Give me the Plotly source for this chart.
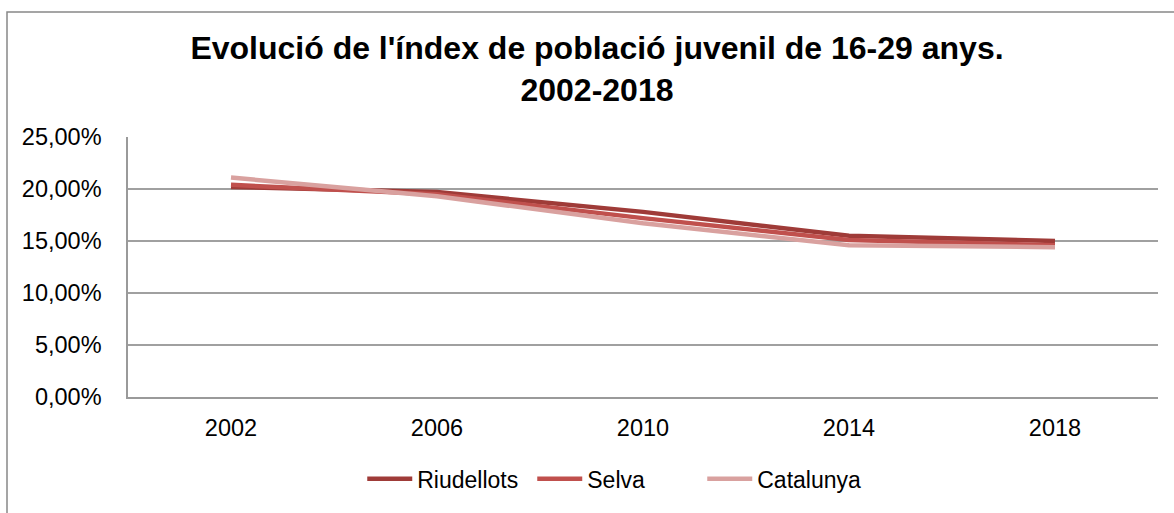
import plotly.graph_objects as go

# Data
years = ["2002", "2006", "2010", "2014", "2018"]
riudellots = [0.202, 0.197, 0.178, 0.155, 0.150]
selva = [0.204, 0.195, 0.172, 0.151, 0.146]
catalunya = [0.211, 0.193, 0.167, 0.146, 0.144]

series = [
    ("Riudellots", riudellots, "#9F3B38"),
    ("Selva", selva, "#C0504D"),
    ("Catalunya", catalunya, "#D9A19F"),
]

fig = go.Figure()
for name, vals, col in series:
    fig.add_trace(go.Scatter(
        x=years, y=vals, name=name, mode="lines",
        line=dict(color=col, width=4.5),
    ))

font_family = "Liberation Sans, Arial, sans-serif"

fig.update_layout(
    width=1174, height=513,
    margin=dict(l=128, r=16, t=137, b=106),
    paper_bgcolor="white",
    plot_bgcolor="white",
    separators=",.",
    font=dict(family=font_family, size=23.5, color="black"),
    title=dict(
        text="<b>Evolució de l'índex de població juvenil de 16-29 anys.<br>2002-2018</b>",
        x=0.5085, xanchor="center",
        y=1 - 59 / 513, yanchor="middle",
        font=dict(size=32, family=font_family, color="black"),
    ),
    showlegend=True,
    legend=dict(
        orientation="h",
        x=0.475, xanchor="center",
        y=-0.315, yanchor="middle",
        font=dict(size=23),
        entrywidth=110,
        itemwidth=45,
    ),
    xaxis=dict(
        type="category",
        range=[-0.5, 4.5],
        showgrid=False,
        showline=True, linecolor="#9A9A9A", linewidth=1.5,
        ticks="",
        ticklabelstandoff=9,
        tickfont=dict(size=23.5),
    ),
    yaxis=dict(
        range=[0, 0.25],
        dtick=0.05,
        tickformat=".2%",
        showgrid=True, gridcolor="#A0A0A0", gridwidth=1.5,
        showline=True, linecolor="#9A9A9A", linewidth=1.5,
        zeroline=False,
        ticks="",
        ticklabelstandoff=20,
        tickfont=dict(size=23.5),
    ),
    shapes=[
        dict(
            type="rect", xref="paper", yref="paper",
            x0=(7 - 128) / 1030, x1=1.2,
            y0=-0.6, y1=(401 - 10) / 264,
            line=dict(color="#888888", width=1.5),
            fillcolor="rgba(0,0,0,0)",
            layer="below",
        )
    ],
)

# remove the default page margin so the figure sits at the window's top-left
fig.write_html("out.html", config={"displayModeBar": False},
               post_script="document.body.style.margin='0';")
